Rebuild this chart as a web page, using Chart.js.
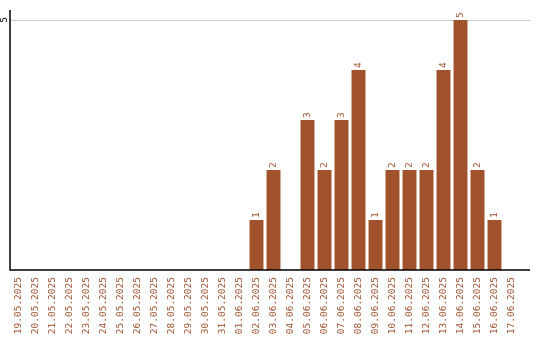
<!DOCTYPE html>
<html><head><meta charset="utf-8">
<script src="https://cdn.jsdelivr.net/npm/chart.js@4"></script>
<style>html,body{margin:0;padding:0;background:#fff}#wrap{width:540px;height:340px}</style>
</head><body><div id="wrap"><canvas id="c"></canvas></div>
<script>
const categories = ["19.05.2025","20.05.2025","21.05.2025","22.05.2025","23.05.2025","24.05.2025","25.05.2025","26.05.2025","27.05.2025","28.05.2025","29.05.2025","30.05.2025","31.05.2025","01.06.2025","02.06.2025","03.06.2025","04.06.2025","05.06.2025","06.06.2025","07.06.2025","08.06.2025","09.06.2025","10.06.2025","11.06.2025","12.06.2025","13.06.2025","14.06.2025","15.06.2025","16.06.2025","17.06.2025"];
const values = [0,0,0,0,0,0,0,0,0,0,0,0,0,0,1,2,0,3,2,3,4,1,2,2,2,4,5,2,1,0];
const yTickLabels = [5];

const BAR = '#A0522D';
const FONT = '9.5px "DejaVu Sans Mono"';

const deco = {
  id: 'deco',
  beforeDatasetsDraw(chart) {
    const ctx = chart.ctx, a = chart.chartArea, y = chart.scales.y;
    ctx.save();
    ctx.strokeStyle = '#cccccc'; ctx.lineWidth = 1;
    yTickLabels.forEach(v => {
      const py = Math.round(y.getPixelForValue(v)) + 0.5;
      ctx.beginPath(); ctx.moveTo(a.left, py); ctx.lineTo(a.right + 10, py); ctx.stroke();
    });
    ctx.restore();
  },
  afterDatasetsDraw(chart) {
    const ctx = chart.ctx, a = chart.chartArea, y = chart.scales.y;
    ctx.save();
    ctx.strokeStyle = '#000'; ctx.lineWidth = 1.5;
    ctx.beginPath(); ctx.moveTo(a.left, a.top); ctx.lineTo(a.left, a.bottom); ctx.lineTo(a.right + 10, a.bottom); ctx.stroke();
    ctx.font = FONT;
    ctx.fillStyle = '#000'; ctx.textAlign = 'center'; ctx.textBaseline = 'middle';
    yTickLabels.forEach(v => {
      ctx.save(); ctx.translate(4.5, y.getPixelForValue(v)); ctx.rotate(-Math.PI/2); ctx.fillText(String(v), 0, 0); ctx.restore();
    });
    const meta = chart.getDatasetMeta(0);
    ctx.fillStyle = BAR; ctx.textAlign = 'left';
    meta.data.forEach((el, i) => {
      const v = values[i];
      if (!v) return;
      ctx.save(); ctx.translate(el.x, el.y - 2); ctx.rotate(-Math.PI/2); ctx.fillText(String(v), 0, 0.5); ctx.restore();
    });
    ctx.restore();
  }
};

new Chart(document.getElementById('c'), {
  type: 'bar',
  data: { labels: categories, datasets: [{ data: values, backgroundColor: BAR, categoryPercentage: 1, barPercentage: 0.82 }] },
  options: {
    responsive: true, maintainAspectRatio: false, animation: false,
    layout: { padding: { left: 10, top: 10, right: 20, bottom: 0 } },
    plugins: { legend: { display: false }, tooltip: { enabled: false } },
    scales: {
      x: {
        grid: { display: false, drawTicks: false }, border: { display: false },
        ticks: { color: BAR, font: { family: 'DejaVu Sans Mono', size: 9.5 }, minRotation: 90, maxRotation: 90, autoSkip: false, padding: 7 },
        afterFit(s) { s.height = 70; }
      },
      y: {
        min: 0, max: 5.2,
        grid: { display: false, drawTicks: false }, border: { display: false },
        ticks: { display: false },
        afterFit(s) { s.width = 0; }
      }
    }
  },
  plugins: [deco]
});
</script></body></html>
